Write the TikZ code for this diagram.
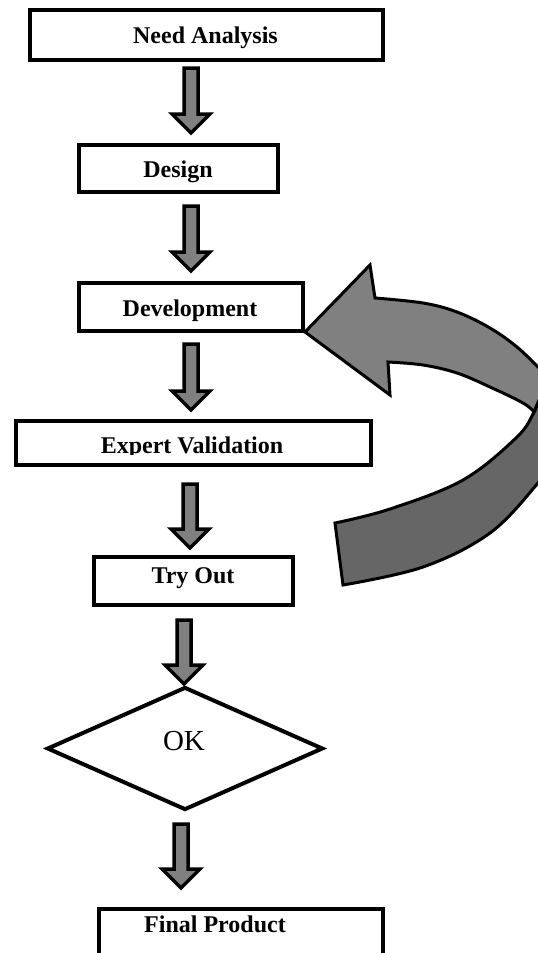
\documentclass[tikz,border=0pt]{standalone}
\usepackage{fontspec}
\setmainfont{Liberation Serif}
\usetikzlibrary{calc,shapes.geometric}
\definecolor{agray}{RGB}{128,128,128}
\definecolor{dgray}{RGB}{102,102,102}
\newcommand\blockarr[2]{%
  \draw[barrow] let \p1=(#1), \p2=(#2) in
   (\x1-7pt,\y1) -- (\x1-7pt,\y2+19pt) -- (\x1-19pt,\y2+19pt) -- (\x1,\y2)
   -- (\x1+19pt,\y2+19pt) -- (\x1+7pt,\y2+19pt) -- (\x1+7pt,\y1) -- cycle;}
\begin{document}
\begin{tikzpicture}[x=1pt,y=-1pt,
  box/.style={draw, line width=4pt, fill=white, inner sep=0pt, outer sep=0pt},
  lbl/.style={font=\fontsize{24}{28}\selectfont\bfseries, text height=16pt, text depth=0pt, inner sep=0pt},
  barrow/.style={draw, fill=agray, line width=3.5pt, line join=miter},
  curv/.style={draw, line width=3pt, line join=miter}]
\useasboundingbox (0,0) rectangle (538,953);
\clip (0,0) rectangle (538,953);
% boxes
\node[box, minimum width=353, minimum height=50] (b1) at (206.5,35) {};
\node[box, minimum width=199, minimum height=47] (b2) at (178.5,168.5) {};
\node[box, minimum width=224, minimum height=48] (b3) at (191,307) {};
\node[box, minimum width=355, minimum height=44] (b4) at (193.5,443) {};
\node[box, minimum width=199, minimum height=48] (b5) at (193.5,581) {};
\node[box, minimum width=284, minimum height=70] (b6) at (241,944) {};
\node[draw, diamond, line width=4pt, fill=white, inner sep=0pt, minimum width=276, minimum height=123] (d) at (185,748.5) {};
% labels
\node[lbl] (t1) at (205.5,35.5) {Need Analysis};
\node[lbl] (t2) at (178,169.5) {Design};
\node[lbl] (t3) at (190,308) {Development};
\begin{scope}
  \clip (14,419) rectangle (373,454);
  \node[lbl] (t4) at (192,445.5) {Expert Validation};
\end{scope}
\node[lbl] (t5) at (193,575.5) {Try Out};
\node[font=\fontsize{29}{32}\selectfont, text height=19pt, text depth=0pt, inner sep=0pt] (t6) at (184,741) {OK};
\node[lbl] (t7) at (215,924.5) {Final Product};
% straight block arrows
\coordinate (a1s) at (191,68);  \coordinate (a1e) at (191,133);
\coordinate (a2s) at (191,206); \coordinate (a2e) at (191,271);
\coordinate (a3s) at (191,344); \coordinate (a3e) at (191,410);
\coordinate (a4s) at (190,484); \coordinate (a4e) at (190,548);
\coordinate (a5s) at (184,620); \coordinate (a5e) at (184,684);
\coordinate (a6s) at (181,824); \coordinate (a6e) at (181,888);
\blockarr{a1s}{a1e}
\blockarr{a2s}{a2e}
\blockarr{a3s}{a3e}
\blockarr{a4s}{a4e}
\blockarr{a5s}{a5e}
\blockarr{a6s}{a6e}
% curved feedback arrow
\draw[curv, fill=dgray] plot[smooth, tension=0.6] coordinates {(335,523) (390,509) (463,480) (517,437) (534,412) (540,398) (550,378)}
  -- plot[smooth, tension=0.6] coordinates {(550,378) (566,410) (562,450) (538,483) (490,533) (423,567) (343,585)} -- cycle;
\draw[curv, fill=agray] (305,332) -- (370,265)
  -- plot[smooth, tension=0.6] coordinates {(375,298) (423,303) (457,312) (490,328) (517,347) (538,367) (550,378)}
  -- plot[smooth, tension=0.6] coordinates {(550,378) (540,398) (534,412)}
  -- plot[smooth, tension=0.6] coordinates {(534,412) (523,403) (490,387) (457,373) (423,365) (388,362)}
  -- (390,395) -- cycle;
\end{tikzpicture}
\end{document}
